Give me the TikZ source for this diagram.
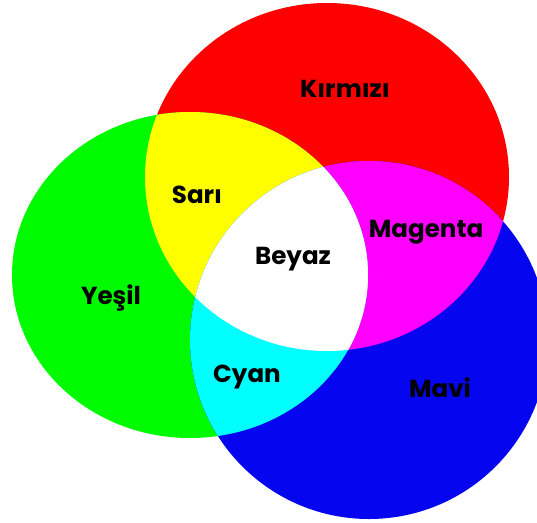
\documentclass[tikz,border=0pt]{standalone}
\usepackage{fontspec}
\setmainfont{Poppins}
\definecolor{lightred}{RGB}{255,0,0}
\definecolor{lightgreen}{RGB}{0,250,0}
\definecolor{lightblue}{RGB}{5,5,240}
\definecolor{mixyellow}{RGB}{255,255,0}
\definecolor{mixmagenta}{RGB}{255,0,255}
\definecolor{mixcyan}{RGB}{0,255,255}
\newcommand{\redspot}{(327,345) ellipse [x radius=182,y radius=174]}
\newcommand{\greenspot}{(190,247) ellipse [x radius=178,y radius=163]}
\newcommand{\bluespot}{(369,182) circle [radius=179]}

\begin{document}
\begin{tikzpicture}[x=.02cm,y=.02cm,
    colname/.style={font=\bfseries\fontsize{14}{16}\selectfont,anchor=base}]
    \clip (0,0) rectangle (537,522);
    \fill[lightred] \redspot;
    \fill[lightgreen] \greenspot;
    \fill[lightblue] \bluespot;
    % two lights
    \begin{scope}
      \clip \redspot;
      \fill[mixyellow] \greenspot;
      \fill[mixmagenta] \bluespot;
    \end{scope}
    \begin{scope}
      \clip \greenspot;
      \fill[mixcyan] \bluespot;
      % all three
      \clip \bluespot;
      \fill[white] \redspot;
    \end{scope}
    \node[colname] (kirmizi) at (345,425) {Kırmızı};
    \node[colname] (sari) at (197,319) {Sarı};
    \node[colname] (magenta) at (426,285) {Magenta};
    \node[colname] (beyaz) at (293,258) {Beyaz};
    \node[colname] (yesil) at (111,218) {Yeşil};
    \node[colname] (cyan) at (247,140) {Cyan};
    \node[colname] (mavi) at (440,125) {Mavi};
  \end{tikzpicture}
\end{document}
